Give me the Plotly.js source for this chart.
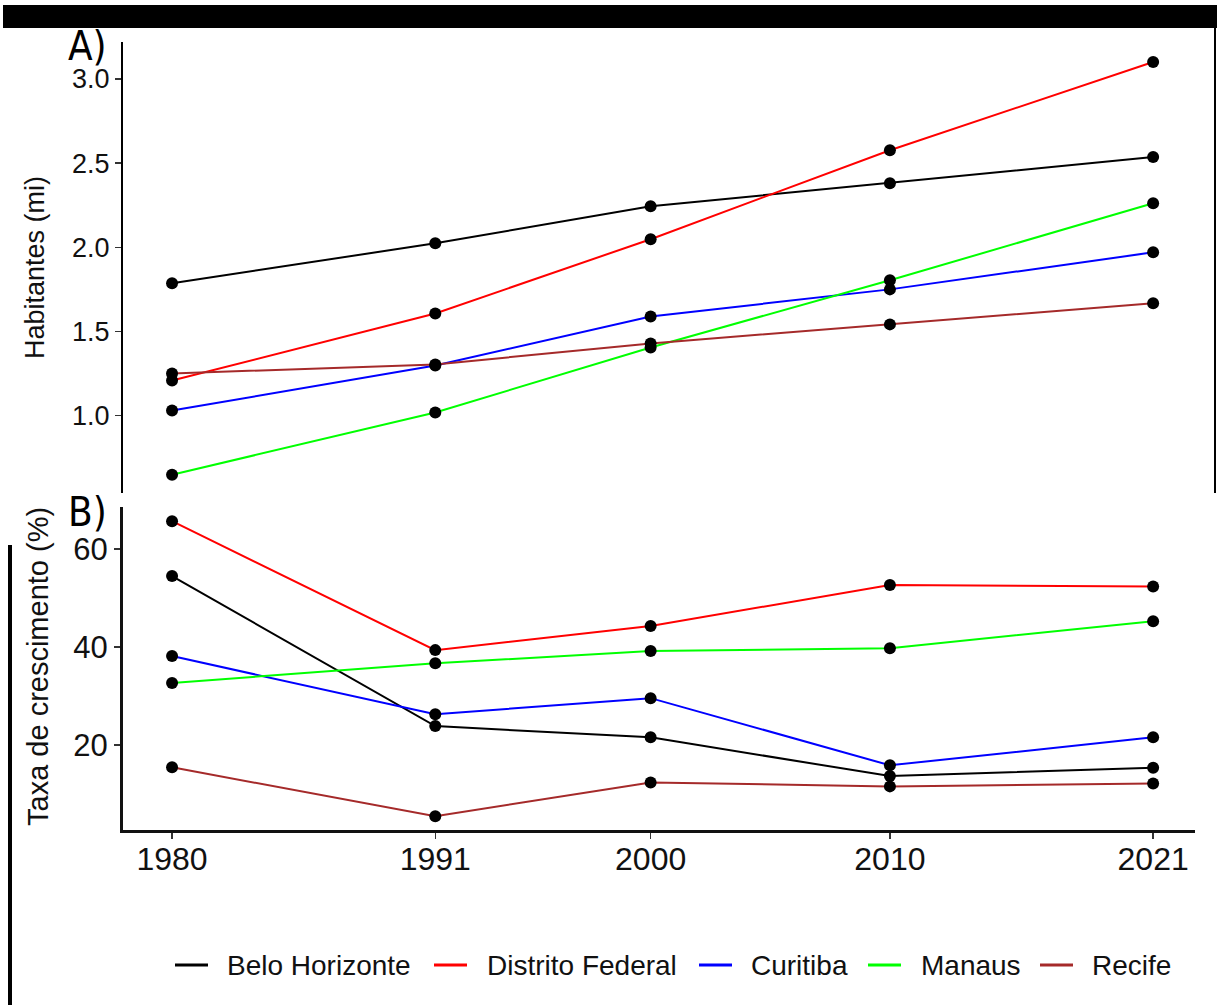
<!DOCTYPE html>
<html>
<head>
<meta charset="utf-8">
<script src="https://cdn.plot.ly/plotly-3.0.1.min.js"></script>
<style>html,body{margin:0;padding:0;background:#fff;}#chart{width:1217px;height:1005px;}</style>
</head>
<body>
<div id="chart"></div>
<script>
const years = [1980, 1991, 2000, 2010, 2021];
const cities = ["Belo Horizonte", "Distrito Federal", "Curitiba", "Manaus", "Recife"];
const colors = ["#000000", "#ff0000", "#0000ff", "#00ff00", "#a52a2a"];

// Panel A: Habitantes (mi)
const popBH = [1.786, 2.024, 2.244, 2.381, 2.536];
const popDF = [1.208, 1.607, 2.048, 2.577, 3.101];
const popCuritiba = [1.030, 1.298, 1.589, 1.750, 1.970];
const popManaus = [0.649, 1.018, 1.405, 1.804, 2.262];
const popRecife = [1.250, 1.304, 1.429, 1.542, 1.667];

// Panel B: Taxa de crescimento (%)
const rateBH = [54.5, 23.9, 21.6, 13.7, 15.4];
const rateDF = [65.7, 39.4, 44.3, 52.7, 52.4];
const rateCuritiba = [38.2, 26.3, 29.6, 15.9, 21.6];
const rateManaus = [32.7, 36.7, 39.2, 39.8, 45.3];
const rateRecife = [15.5, 5.5, 12.4, 11.6, 12.2];

const popSeries = [popBH, popDF, popCuritiba, popManaus, popRecife];
const rateSeries = [rateBH, rateDF, rateCuritiba, rateManaus, rateRecife];

const W = 1217, H = 1005;
const FONT = "Liberation Sans, Arial, sans-serif";
const traces = [];
popSeries.forEach((s, i) => {
  traces.push({x: years, y: s, xaxis: 'x2', yaxis: 'y', mode: 'lines', name: cities[i],
    line: {color: colors[i], width: 2}, showlegend: false});
});
rateSeries.forEach((s, i) => {
  traces.push({x: years, y: s, xaxis: 'x', yaxis: 'y2', mode: 'lines', name: cities[i],
    line: {color: colors[i], width: 2}, showlegend: false});
});
popSeries.forEach((s, i) => {
  traces.push({x: years, y: s, xaxis: 'x2', yaxis: 'y', mode: 'markers', name: cities[i], showlegend: false,
    marker: {color: '#000', size: 12}});
});
rateSeries.forEach((s, i) => {
  traces.push({x: years, y: s, xaxis: 'x', yaxis: 'y2', mode: 'markers', name: cities[i], showlegend: false,
    marker: {color: '#000', size: 12}});
});

// Legend (drawn as keys + labels below the panels)
const legLineX = [175, 434, 699, 868, 1040];
const legTextX = [227, 487, 751, 921, 1092];
const legY = 965;

const xdom = [123 / W, 1195 / W];
const xr = [1977.95, 2022.75];
const shapes = [
  {type: 'rect', xref: 'paper', yref: 'paper', x0: 3 / W, x1: 1, y0: 1 - 28 / H, y1: 1 - 5 / H,
    fillcolor: '#000', line: {width: 0}, layer: 'above'},
  {type: 'line', xref: 'paper', yref: 'paper', x0: 1215 / W, x1: 1215 / W, y0: 1 - 493 / H, y1: 1 - 28 / H,
    line: {color: '#000', width: 2}},
  {type: 'line', xref: 'paper', yref: 'paper', x0: 10 / W, x1: 10 / W, y0: 0, y1: 1 - 545 / H,
    line: {color: '#000', width: 4}}
];
const annotations = [
  {text: 'Habitantes (mi)', xref: 'paper', yref: 'paper', x: 35 / W, y: 1 - 268 / H,
    textangle: -90, showarrow: false, xanchor: 'center', yanchor: 'middle',
    font: {size: 27, family: FONT, color: '#111'}},
  {text: 'Taxa de crescimento (%)', xref: 'paper', yref: 'paper', x: 38 / W, y: 1 - 667 / H,
    textangle: -90, showarrow: false, xanchor: 'center', yanchor: 'middle',
    font: {size: 29, family: FONT, color: '#111'}},
  {text: 'A)', xref: 'paper', yref: 'paper', x: 66 / W, y: 1 - 46 / H, showarrow: false,
    xanchor: 'left', yanchor: 'middle',
    font: {size: 40, family: 'Liberation Sans Narrow, DejaVu Sans Condensed, sans-serif', color: '#000'}},
  {text: 'B)', xref: 'paper', yref: 'paper', x: 66 / W, y: 1 - 512 / H, showarrow: false,
    xanchor: 'left', yanchor: 'middle',
    font: {size: 40, family: 'Liberation Sans Narrow, DejaVu Sans Condensed, sans-serif', color: '#000'}}
];
cities.forEach((c, i) => {
  shapes.push({type: 'line', xref: 'paper', yref: 'paper', x0: legLineX[i] / W, x1: (legLineX[i] + 33) / W,
    y0: 1 - legY / H, y1: 1 - legY / H, line: {color: colors[i], width: 3}});
  annotations.push({text: c, xref: 'paper', yref: 'paper', x: legTextX[i] / W, y: 1 - legY / H,
    showarrow: false, xanchor: 'left', yanchor: 'middle', xshift: -2,
    font: {size: 28, family: FONT, color: '#111'}});
});

const layout = {
  width: W, height: H,
  margin: {l: 0, r: 0, t: 0, b: 0},
  paper_bgcolor: '#fff', plot_bgcolor: 'rgba(0,0,0,0)',
  font: {family: FONT, color: '#000'},
  showlegend: false,
  xaxis: {domain: xdom, range: xr, anchor: 'y2', tickvals: years, ticktext: years.map(String),
    showgrid: false, zeroline: false, showline: true, linecolor: '#111', linewidth: 3,
    ticks: 'outside', ticklen: 6, tickwidth: 1.5, tickcolor: '#333', ticklabelstandoff: -7,
    tickfont: {size: 32, family: FONT, color: '#111'}},
  xaxis2: {domain: xdom, range: xr, anchor: 'y', visible: false, showgrid: false, zeroline: false},
  yaxis: {domain: [1 - 493 / H, 1 - 42 / H], range: [0.54, 3.22], anchor: 'x2',
    tickvals: [1.0, 1.5, 2.0, 2.5, 3.0], ticktext: ['1.0', '1.5', '2.0', '2.5', '3.0'],
    showgrid: false, zeroline: false, showline: true, linecolor: '#000', linewidth: 2,
    ticks: 'outside', ticklen: 6, tickwidth: 1.5, tickcolor: '#333',
    tickfont: {size: 27, family: FONT, color: '#111'}},
  yaxis2: {domain: [1 - 830 / H, 1 - 507 / H], range: [2.7, 68.6], anchor: 'x',
    tickvals: [20, 40, 60], ticktext: ['20', '40', '60'],
    showgrid: false, zeroline: false, showline: true, linecolor: '#111', linewidth: 3,
    ticks: 'outside', ticklen: 6, tickwidth: 1.5, tickcolor: '#333',
    tickfont: {size: 31, family: FONT, color: '#111'}},
  shapes: shapes,
  annotations: annotations
};
Plotly.newPlot('chart', traces, layout, {displayModeBar: false, staticPlot: true});
</script>
</body>
</html>
